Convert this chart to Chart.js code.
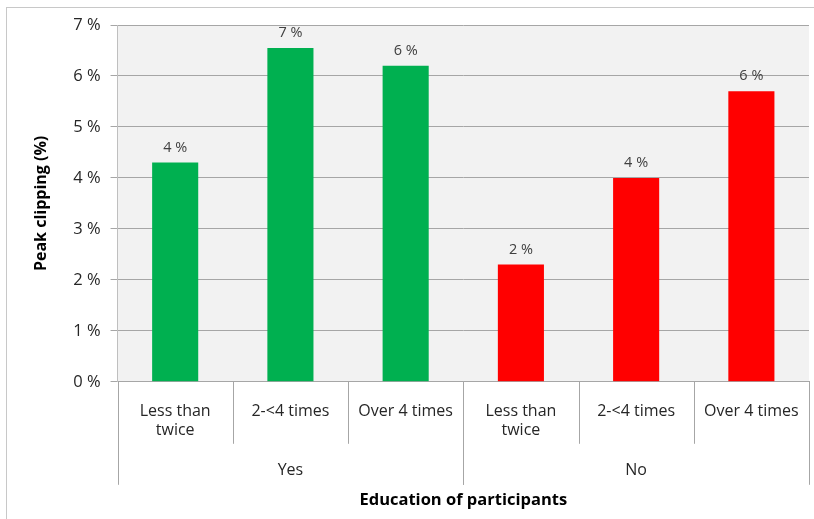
<!DOCTYPE html>
<html>
<head>
<meta charset="utf-8">
<script src="https://cdn.jsdelivr.net/npm/chart.js@4/dist/chart.umd.min.js"></script>
<style>
  html, body { margin: 0; padding: 0; background: #fff; }
  #wrap { width: 814px; height: 519px; position: relative; }
</style>
</head>
<body>
<div id="wrap"><canvas id="chart"></canvas></div>
<script>
// inner categories (frequency), outer groups (education), values in percent
const frequency = [['Less than', 'twice'], '2-<4 times', 'Over 4 times', ['Less than', 'twice'], '2-<4 times', 'Over 4 times'];
const groups = ['Yes', 'No'];
const groupSize = [3, 3];
const peakClipping = [4.3, 6.55, 6.2, 2.3, 4.0, 5.7];
const barColors = ['#00b050', '#00b050', '#00b050', '#ff0000', '#ff0000', '#ff0000'];
const yTicks = [0, 1, 2, 3, 4, 5, 6, 7];

const FONT = "'Open Sans', 'Noto Sans', sans-serif";
const TEXT = '#262626';

// grey plot background + outer frame
const backdrop = {
    id: 'backdrop',
    beforeDraw(chart) {
        const {ctx, chartArea: a} = chart;
        ctx.save();
        ctx.strokeStyle = '#c8c8c8';
        ctx.lineWidth = 1;
        ctx.strokeRect(6.5, 7.5, 830, 530);
        ctx.fillStyle = '#f2f2f2';
        ctx.fillRect(a.left, a.top, a.right - a.left, a.bottom - a.top);
        ctx.restore();
    }
};

// value labels above bars, category separators and group labels below the axis
const annotations = {
    id: 'annotations',
    afterDatasetsDraw(chart) {
        const {ctx, chartArea: a, scales: {x, y}} = chart;
        const meta = chart.getDatasetMeta(0);
        ctx.save();
        ctx.font = '14.5px ' + FONT;
        ctx.fillStyle = '#404040';
        ctx.textAlign = 'center';
        ctx.textBaseline = 'middle';
        meta.data.forEach((bar, i) => {
            ctx.fillText(Math.round(peakClipping[i]) + ' %', bar.x, bar.y - 15);
        });

        const half = (x.getPixelForValue(1) - x.getPixelForValue(0)) / 2;
        ctx.strokeStyle = '#a6a6a6';
        ctx.lineWidth = 1;
        // inner separators
        for (let i = 0; i <= frequency.length; i++) {
            const px = Math.round(x.getPixelForValue(i) - half) + 0.5;
            ctx.beginPath();
            ctx.moveTo(px, a.bottom);
            ctx.lineTo(px, a.bottom + 62);
            ctx.stroke();
        }
        // group separators and labels
        let start = 0;
        ctx.font = '16px ' + FONT;
        ctx.fillStyle = TEXT;
        groups.forEach((g, gi) => {
            const end = start + groupSize[gi];
            const l = x.getPixelForValue(start) - half;
            const r = x.getPixelForValue(end - 1) + half;
            [l, r].forEach(p => {
                const px = Math.round(p) + 0.5;
                ctx.beginPath();
                ctx.moveTo(px, a.bottom);
                ctx.lineTo(px, a.bottom + 103);
                ctx.stroke();
            });
            ctx.fillText(g, (l + r) / 2, a.bottom + 89);
            start = end;
        });
        ctx.restore();
    }
};

new Chart(document.getElementById('chart'), {
    type: 'bar',
    data: {
        labels: frequency,
        datasets: [{
            data: peakClipping,
            backgroundColor: barColors,
            categoryPercentage: 1,
            barPercentage: 0.4
        }]
    },
    options: {
        responsive: true,
        maintainAspectRatio: false,
        animation: false,
        layout: { padding: { top: 25, right: 5, left: 32, bottom: 9 } },
        plugins: { legend: { display: false }, tooltip: { enabled: false } },
        scales: {
            x: {
                grid: { display: false },
                border: { color: '#a6a6a6' },
                ticks: { font: { family: FONT, size: 16 }, color: TEXT, padding: 12, maxRotation: 0, autoSkip: false },
                title: {
                    display: true,
                    text: 'Education of participants',
                    font: { family: FONT, size: 16.5, weight: 'bold' },
                    color: '#000',
                    padding: { top: 38, bottom: 0 }
                }
            },
            y: {
                min: 0,
                max: 7,
                afterBuildTicks(scale) { scale.ticks = yTicks.map(v => ({value: v})); },
                grid: { color: '#a6a6a6', tickLength: 7 },
                border: { color: '#bfbfbf' },
                ticks: { font: { family: FONT, size: 16.5 }, color: TEXT, padding: 10, callback: v => v + ' %' },
                title: {
                    display: true,
                    text: 'Peak clipping (%)',
                    font: { family: FONT, size: 16, weight: 'bold' },
                    color: '#000',
                    padding: { top: 0, bottom: 12 }
                }
            }
        }
    },
    plugins: [backdrop, annotations]
});
</script>
</body>
</html>
